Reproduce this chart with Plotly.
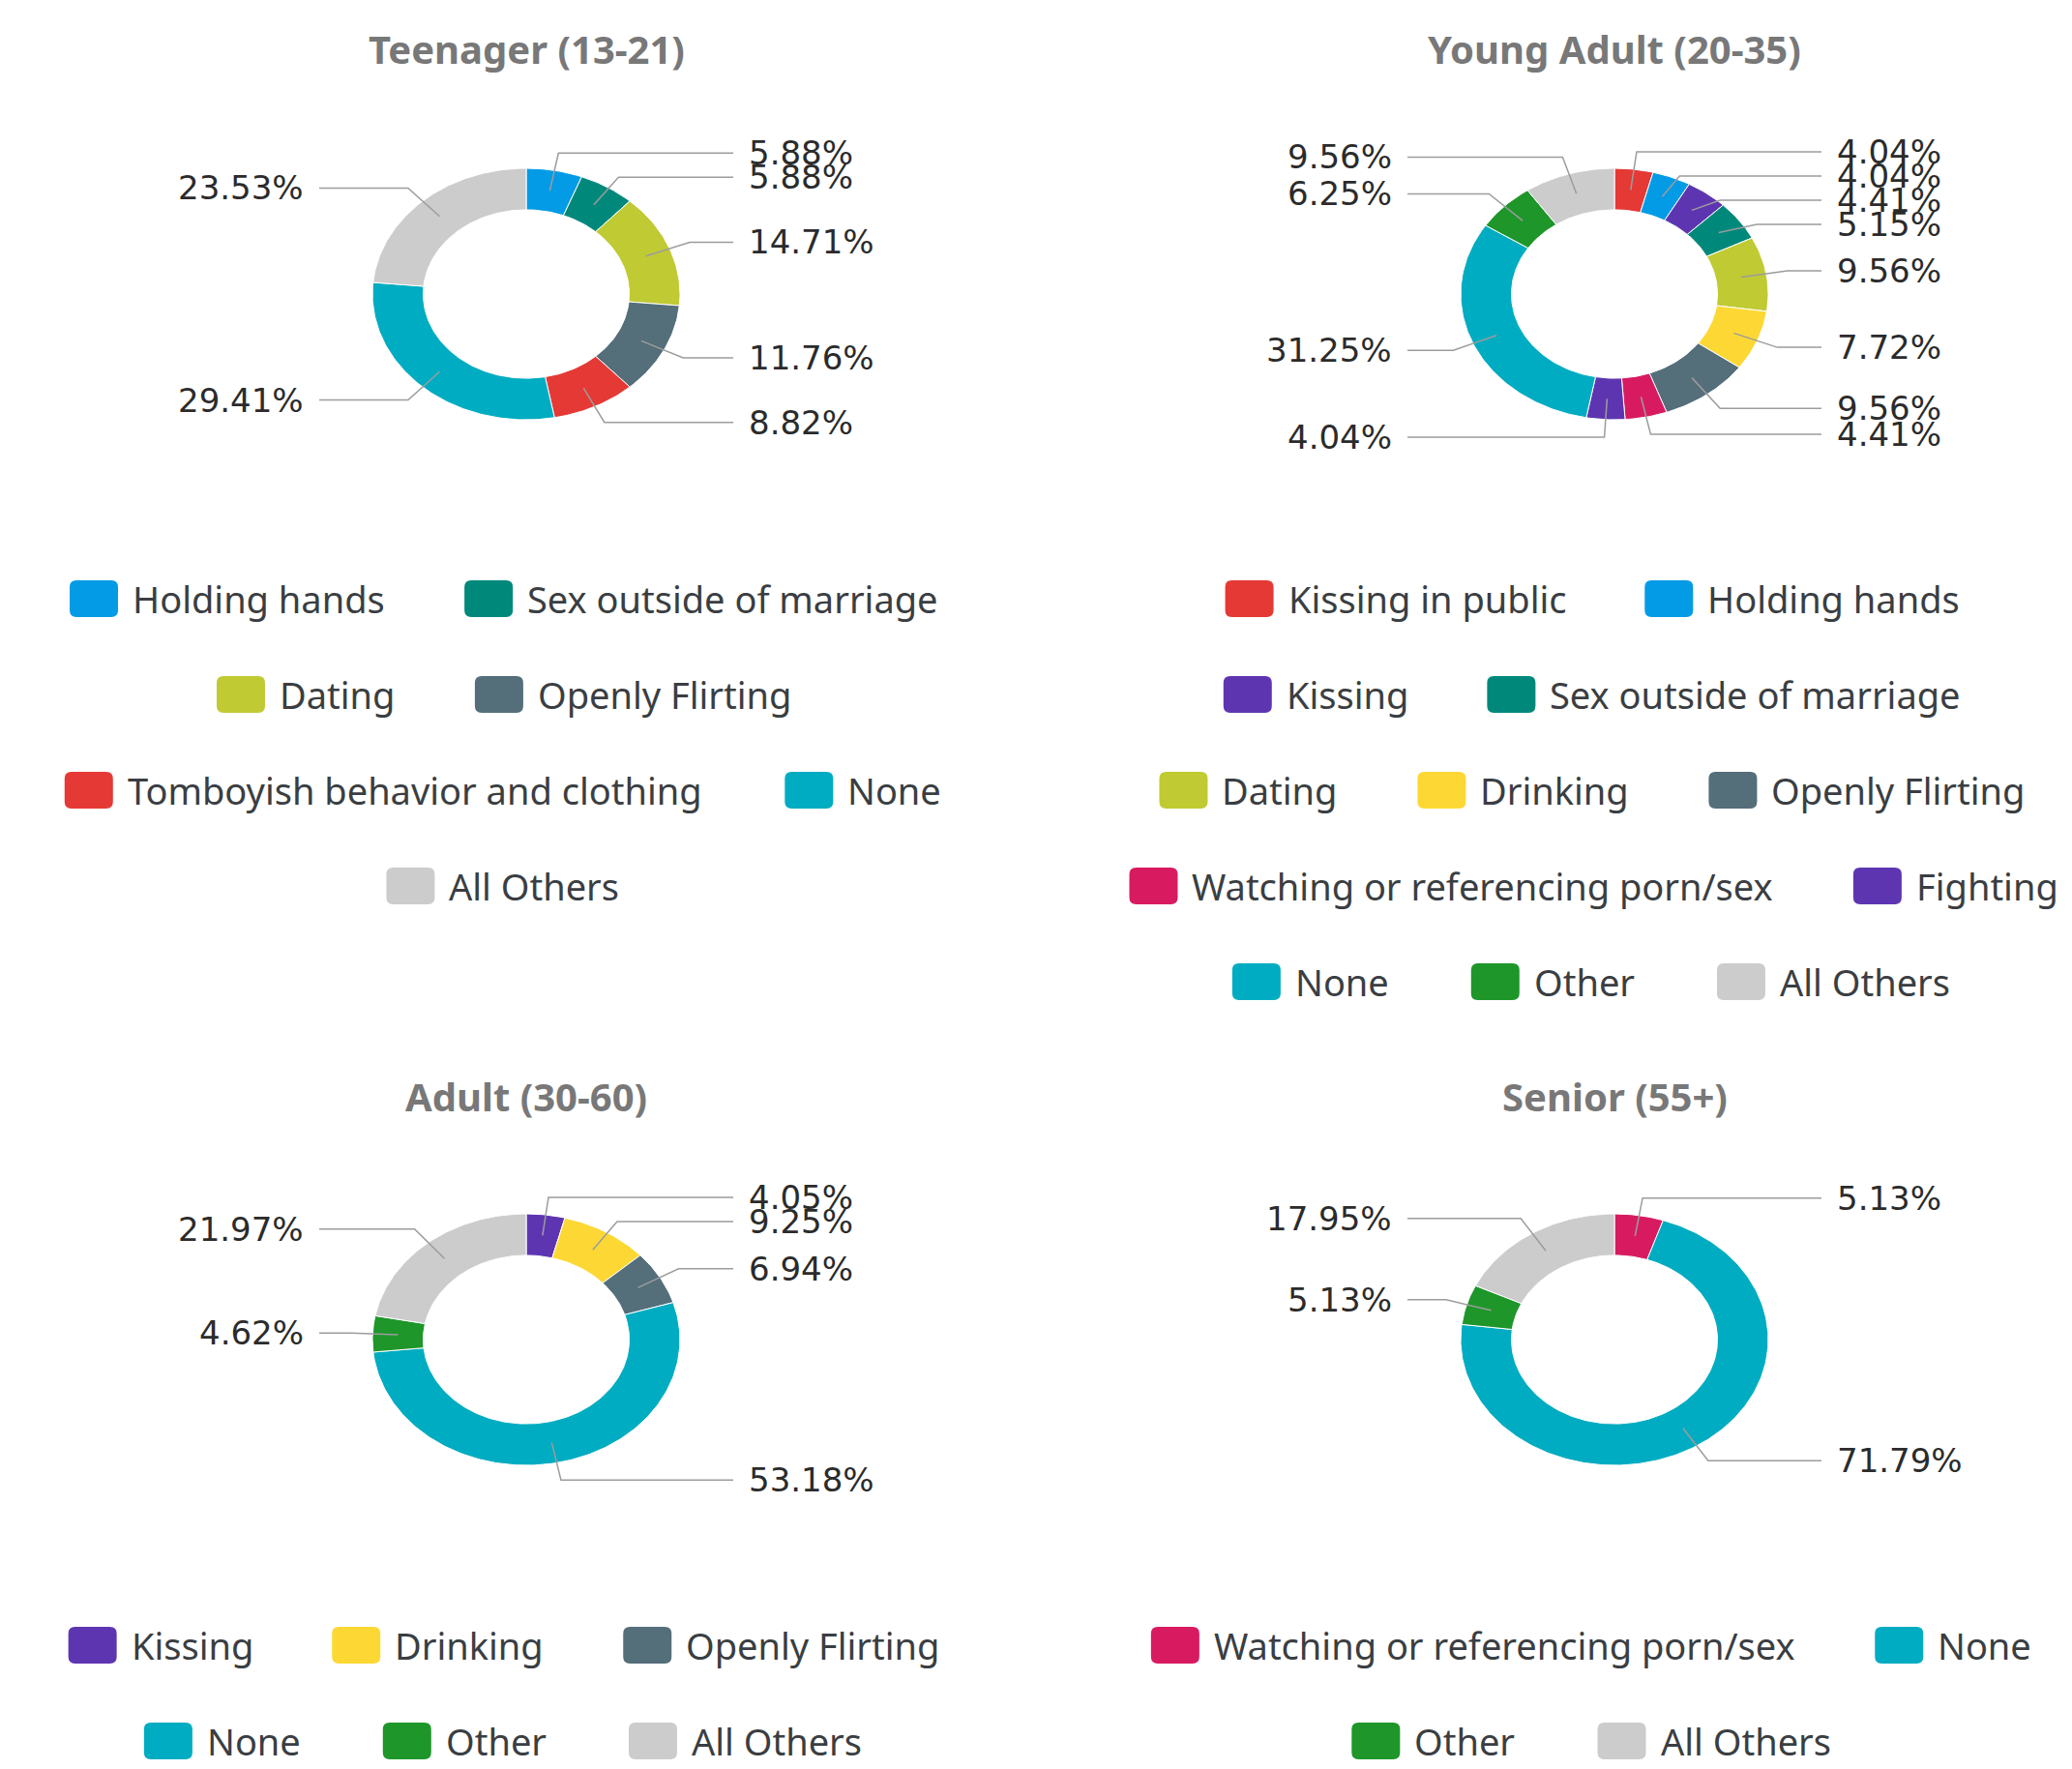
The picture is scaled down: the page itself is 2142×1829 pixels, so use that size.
import numpy as np
import plotly.graph_objects as go

# ---------------- data ----------------
teen_labels = ["Holding hands", "Sex outside of marriage", "Dating", "Openly Flirting",
               "Tomboyish behavior and clothing", "None", "All Others"]
teen_values = [5.88, 5.88, 14.71, 11.76, 8.82, 29.41, 23.53]

young_labels = ["Kissing in public", "Holding hands", "Kissing", "Sex outside of marriage",
                "Dating", "Drinking", "Openly Flirting", "Watching or referencing porn/sex",
                "Fighting", "None", "Other", "All Others"]
young_values = [4.04, 4.04, 4.41, 5.15, 9.56, 7.72, 9.56, 4.41, 4.04, 31.25, 6.25, 9.56]

adult_labels = ["Kissing", "Drinking", "Openly Flirting", "None", "Other", "All Others"]
adult_values = [4.05, 9.25, 6.94, 53.18, 4.62, 21.97]

senior_labels = ["Watching or referencing porn/sex", "None", "Other", "All Others"]
senior_values = [5.13, 71.79, 5.13, 17.95]

panel_titles = ["Teenager (13-21)", "Young Adult (20-35)", "Adult (30-60)", "Senior (55+)"]

teen_legend_rows = [["Holding hands", "Sex outside of marriage"],
                    ["Dating", "Openly Flirting"],
                    ["Tomboyish behavior and clothing", "None"],
                    ["All Others"]]
young_legend_rows = [["Kissing in public", "Holding hands"],
                     ["Kissing", "Sex outside of marriage"],
                     ["Dating", "Drinking", "Openly Flirting"],
                     ["Watching or referencing porn/sex", "Fighting"],
                     ["None", "Other", "All Others"]]
adult_legend_rows = [["Kissing", "Drinking", "Openly Flirting"],
                     ["None", "Other", "All Others"]]
senior_legend_rows = [["Watching or referencing porn/sex", "None"],
                      ["Other", "All Others"]]

category_colors = {
    "Holding hands": "#039be5",
    "Sex outside of marriage": "#00897b",
    "Dating": "#c0ca33",
    "Openly Flirting": "#546e7a",
    "Tomboyish behavior and clothing": "#e53935",
    "None": "#00acc1",
    "All Others": "#cccccc",
    "Kissing in public": "#e53935",
    "Kissing": "#5e35b1",
    "Drinking": "#fdd835",
    "Watching or referencing porn/sex": "#d81b60",
    "Fighting": "#5e35b1",
    "Other": "#1e962a",
}

# ---------------- layout constants ----------------
W, H = 2142, 1829
RX, RY = 159.0, 130.0          # donut outer radii in px (the chart is wider than tall)
HOLE = 0.67
MID = (1 + HOLE) / 2           # connector start radius
KLAB = 1.14                    # label radius
MIN_GAP = 25.0 / RY            # minimal vertical spacing between labels on one side
COL_LINE = 214.0 / RX          # connector end (normalised x)
COL_TEXT = 228.0 / RX          # label text column (normalised x)
HW, HH = 460.0, 200.0          # half size of each subplot box in px

LABEL_FONT = dict(family="DejaVu Sans", size=34, color="#2b2b2b")
LEGEND_FONT = dict(family="Noto Sans", size=38, color="#3a3e42")
TITLE_FONT = dict(family="Noto Sans", size=40, color="#787878", weight="bold")

panels = [
    dict(title=panel_titles[0], labels=teen_labels, values=teen_values, rows=teen_legend_rows,
         cx=544, cy=304, ty=51, ly=619),
    dict(title=panel_titles[1], labels=young_labels, values=young_values, rows=young_legend_rows,
         cx=1669, cy=304, ty=51, ly=619),
    dict(title=panel_titles[2], labels=adult_labels, values=adult_values, rows=adult_legend_rows,
         cx=544, cy=1385, ty=1133, ly=1701),
    dict(title=panel_titles[3], labels=senior_labels, values=senior_values, rows=senior_legend_rows,
         cx=1669, cy=1385, ty=1133, ly=1701),
]
ROW_PITCH = 99.0

# approximate advance widths (em) for Noto Sans regular, used to centre legend rows
CW = {' ': 0.26, 'a': 0.561, 'b': 0.615, 'c': 0.48, 'd': 0.615, 'e': 0.564, 'f': 0.344,
      'g': 0.546, 'h': 0.618, 'i': 0.258, 'j': 0.258, 'k': 0.53, 'l': 0.258, 'm': 0.94,
      'n': 0.618, 'o': 0.605, 'p': 0.615, 'q': 0.615, 'r': 0.413, 's': 0.479, 't': 0.361,
      'u': 0.618, 'v': 0.508, 'w': 0.786, 'x': 0.529, 'y': 0.51, 'z': 0.468, 'A': 0.639,
      'D': 0.733, 'F': 0.522, 'H': 0.742, 'K': 0.588, 'N': 0.763, 'O': 0.786, 'S': 0.55,
      'T': 0.556, 'W': 0.93, '/': 0.372, '-': 0.322}


def text_width(s, size):
    return sum(CW.get(ch, 0.57) for ch in s) * size


def ring_segment(a0, a1, r_in, r_out):
    n = max(3, int(abs(a1 - a0) / 1.0) + 2)
    ang_o = np.radians(np.linspace(a0, a1, n))
    ang_i = ang_o[::-1]
    xs = np.concatenate([r_out * np.sin(ang_o), r_in * np.sin(ang_i), [r_out * np.sin(ang_o[0])]])
    ys = np.concatenate([r_out * np.cos(ang_o), r_in * np.cos(ang_i), [r_out * np.cos(ang_o[0])]])
    return xs, ys


def px2paper_x(x):
    return x / W


def px2paper_y(y):
    return 1 - y / H


fig = go.Figure()
annotations = []
shapes = []
layout_axes = {}

for i, p in enumerate(panels):
    idx = "" if i == 0 else str(i + 1)
    xa, ya = "x" + idx, "y" + idx
    layout_axes["xaxis" + idx] = dict(
        domain=[(p["cx"] - HW) / W, (p["cx"] + HW) / W], range=[-HW / RX, HW / RX],
        visible=False, fixedrange=True, anchor=ya)
    layout_axes["yaxis" + idx] = dict(
        domain=[1 - (p["cy"] + HH) / H, 1 - (p["cy"] - HH) / H], range=[-HH / RY, HH / RY],
        visible=False, fixedrange=True, anchor=xa)

    vals = np.array(p["values"], dtype=float)
    total = vals.sum()
    ends = np.cumsum(vals) / total * 360.0
    starts = np.concatenate([[0.0], ends[:-1]])
    mids = np.radians((starts + ends) / 2)

    # natural label heights, then push down labels that crowd the one above
    label_y = KLAB * np.cos(mids)
    for side in (True, False):
        ids = [j for j in range(len(vals)) if (np.sin(mids[j]) >= 0) == side]
        ids.sort(key=lambda j: -label_y[j])
        for a, b in zip(ids[:-1], ids[1:]):
            if label_y[b] > label_y[a] - MIN_GAP:
                label_y[b] = label_y[a] - MIN_GAP

    cx_line, cy_line = [], []
    for j, (lab, v, a0, a1) in enumerate(zip(p["labels"], vals, starts, ends)):
        xs, ys = ring_segment(a0, a1, HOLE, 1.0)
        fig.add_trace(go.Scatter(
            x=xs, y=ys, xaxis=xa, yaxis=ya, mode="lines", fill="toself",
            fillcolor=category_colors[lab], line=dict(color="white", width=1),
            name=lab, text=f"{lab}: {v:.2f}%", hoverinfo="text", hoveron="fills",
            showlegend=False))
        s, c = np.sin(mids[j]), np.cos(mids[j])
        right = s >= 0
        ly = label_y[j]
        end_x = COL_LINE if right else -COL_LINE
        cx_line += [MID * s, KLAB * s, end_x, None]
        cy_line += [MID * c, ly, ly, None]
        annotations.append(dict(
            x=COL_TEXT if right else -COL_TEXT, y=ly, xref=xa, yref=ya,
            text=f"{v:.2f}%", showarrow=False, xanchor="left" if right else "right",
            yanchor="middle", font=LABEL_FONT))
    fig.add_trace(go.Scatter(
        x=cx_line, y=cy_line, xaxis=xa, yaxis=ya, mode="lines",
        line=dict(color="#9c9c9c", width=1.5), hoverinfo="skip", showlegend=False))

    # title
    annotations.append(dict(x=px2paper_x(p["cx"]), y=px2paper_y(p["ty"]), xref="paper",
                            yref="paper", text=p["title"], showarrow=False,
                            xanchor="center", yanchor="middle", font=TITLE_FONT))

    # legend (centred rows of rounded swatches + text)
    BOX_W, BOX_H, GAP_T, GAP_I, RAD = 50.0, 38.0, 13.0, 87.0, 7.0
    centre = p["cx"] - 25
    for r, row in enumerate(p["rows"]):
        y = p["ly"] + r * ROW_PITCH
        widths = [BOX_W + GAP_T + text_width(t, LEGEND_FONT["size"]) for t in row]
        total_w = sum(widths) + GAP_I * (len(row) - 1)
        x = centre - total_w / 2
        for t, wdt in zip(row, widths):
            x0, x1 = x, x + BOX_W
            y0, y1 = y - BOX_H / 2, y + BOX_H / 2
            X, Y = px2paper_x, px2paper_y
            path = (f"M{X(x0 + RAD)},{Y(y0)} L{X(x1 - RAD)},{Y(y0)} Q{X(x1)},{Y(y0)} {X(x1)},{Y(y0 + RAD)} "
                    f"L{X(x1)},{Y(y1 - RAD)} Q{X(x1)},{Y(y1)} {X(x1 - RAD)},{Y(y1)} "
                    f"L{X(x0 + RAD)},{Y(y1)} Q{X(x0)},{Y(y1)} {X(x0)},{Y(y1 - RAD)} "
                    f"L{X(x0)},{Y(y0 + RAD)} Q{X(x0)},{Y(y0)} {X(x0 + RAD)},{Y(y0)} Z")
            shapes.append(dict(type="path", path=path, xref="paper", yref="paper",
                               fillcolor=category_colors[t], line=dict(width=0)))
            annotations.append(dict(x=px2paper_x(x1 + GAP_T), y=px2paper_y(y), xref="paper",
                                    yref="paper", text=t, showarrow=False, xanchor="left",
                                    yanchor="middle", font=LEGEND_FONT))
            x += wdt + GAP_I

fig.update_layout(
    width=W, height=H, margin=dict(l=0, r=0, t=0, b=0),
    paper_bgcolor="white", plot_bgcolor="rgba(0,0,0,0)",
    showlegend=False, annotations=annotations, shapes=shapes,
    **layout_axes)

fig.write_html("out.html", config={"displayModeBar": False},
               post_script="document.body.style.margin='0';document.body.style.overflow='hidden';")
